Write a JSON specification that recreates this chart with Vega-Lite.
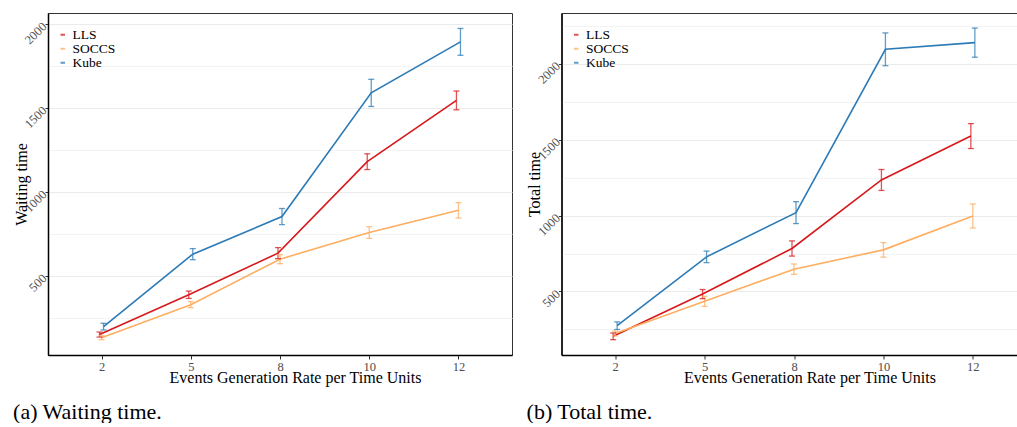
{
  "$schema": "https://vega.github.io/schema/vega-lite/v6.json",
  "background": "white",
  "padding": {"left": 12, "top": 12, "right": 0, "bottom": 0},
  "spacing": 12.5,
  "config": {
    "font": "Liberation Serif",
    "view": {"stroke": "#333333", "strokeWidth": 1},
    "axis": {
      "labelFont": "Liberation Serif",
      "titleFont": "Liberation Serif",
      "labelColor": "#4D4D4D",
      "titleColor": "black",
      "titleFontWeight": "normal",
      "titleFontSize": 16,
      "domainColor": "black",
      "domainWidth": 1.5,
      "tickColor": "#333333",
      "gridColor": "#EBEBEB",
      "gridWidth": 1
    },
    "legend": {
      "title": null,
      "orient": "none",
      "legendX": 8,
      "legendY": 15,
      "padding": 0,
      "symbolType": "stroke",
      "symbolSize": 20,
      "symbolStrokeWidth": 2,
      "labelFont": "Liberation Serif",
      "labelFontSize": 13.5,
      "labelColor": "black",
      "labelOffset": 3,
      "rowPadding": -1.5
    },
    "title": {"font": "Liberation Serif", "fontSize": 22, "fontWeight": "normal", "color": "black"}
  },
  "datasets": {
    "wait": [
      {"rate": "2", "alg": "LLS", "y": 150, "lo": 135, "hi": 165},
      {"rate": "5", "alg": "LLS", "y": 387, "lo": 365, "hi": 409},
      {"rate": "8", "alg": "LLS", "y": 635, "lo": 602, "hi": 668},
      {"rate": "10", "alg": "LLS", "y": 1180, "lo": 1133, "hi": 1227},
      {"rate": "12", "alg": "LLS", "y": 1545, "lo": 1489, "hi": 1601},
      {"rate": "2", "alg": "SOCCS", "y": 131, "lo": 119, "hi": 143},
      {"rate": "5", "alg": "SOCCS", "y": 328, "lo": 310, "hi": 346},
      {"rate": "8", "alg": "SOCCS", "y": 599, "lo": 572, "hi": 626},
      {"rate": "10", "alg": "SOCCS", "y": 758, "lo": 723, "hi": 793},
      {"rate": "12", "alg": "SOCCS", "y": 890, "lo": 844, "hi": 936},
      {"rate": "2", "alg": "Kube", "y": 197, "lo": 177, "hi": 217},
      {"rate": "5", "alg": "Kube", "y": 629, "lo": 596, "hi": 662},
      {"rate": "8", "alg": "Kube", "y": 853, "lo": 805, "hi": 901},
      {"rate": "10", "alg": "Kube", "y": 1590, "lo": 1509, "hi": 1671},
      {"rate": "12", "alg": "Kube", "y": 1894, "lo": 1814, "hi": 1974}
    ],
    "total": [
      {"rate": "2", "alg": "LLS", "y": 205, "lo": 183, "hi": 227},
      {"rate": "5", "alg": "LLS", "y": 483, "lo": 453, "hi": 513},
      {"rate": "8", "alg": "LLS", "y": 783, "lo": 733, "hi": 833},
      {"rate": "10", "alg": "LLS", "y": 1234, "lo": 1165, "hi": 1303},
      {"rate": "12", "alg": "LLS", "y": 1523, "lo": 1441, "hi": 1605},
      {"rate": "2", "alg": "SOCCS", "y": 224, "lo": 208, "hi": 240},
      {"rate": "5", "alg": "SOCCS", "y": 435, "lo": 402, "hi": 468},
      {"rate": "8", "alg": "SOCCS", "y": 647, "lo": 613, "hi": 681},
      {"rate": "10", "alg": "SOCCS", "y": 774, "lo": 726, "hi": 822},
      {"rate": "12", "alg": "SOCCS", "y": 997, "lo": 918, "hi": 1076},
      {"rate": "2", "alg": "Kube", "y": 275, "lo": 250, "hi": 300},
      {"rate": "5", "alg": "Kube", "y": 728, "lo": 690, "hi": 766},
      {"rate": "8", "alg": "Kube", "y": 1019, "lo": 947, "hi": 1091},
      {"rate": "10", "alg": "Kube", "y": 2094, "lo": 1986, "hi": 2202},
      {"rate": "12", "alg": "Kube", "y": 2138, "lo": 2042, "hi": 2234}
    ]
  },
  "hconcat": [
    {
      "width": 464,
      "height": 342,
      "title": {"text": "(a) Waiting time.", "orient": "bottom", "anchor": "start", "frame": "bounds", "offset": 16},
      "data": {"name": "wait"},
      "encoding": {
        "x": {"field": "rate", "type": "ordinal", "sort": ["2", "5", "8", "10", "12"], "scale": {"type": "point", "padding": 0.6},
          "axis": {"title": "Events Generation Rate per Time Units", "labelAngle": 0, "labelFontSize": 12.5, "tickSize": 4, "labelPadding": 1, "titlePadding": -3, "titleX": 247}},
        "xOffset": {"field": "alg", "type": "nominal", "scale": {"type": "point", "domain": ["LLS", "SOCCS", "Kube"], "range": [-3, 3]}},
        "color": {"field": "alg", "type": "nominal", "scale": {"domain": ["LLS", "SOCCS", "Kube"], "range": ["#D7191C", "#FDAE61", "#2C7BB6"]}}
      },
      "layer": [
        {"mark": {"type": "line", "strokeWidth": 1.6},
          "encoding": {"y": {"field": "y", "type": "quantitative", "title": "Waiting time", "scale": {"domain": [28, 2066], "nice": false, "zero": false},
            "axis": {"values": [250, 500, 750, 1000, 1250, 1500, 1750, 2000], "format": "d",
              "labelExpr": "datum.value % 500 === 0 ? datum.label : ''",
              "labelAngle": -45, "labelAlign": "right", "labelBaseline": "middle", "labelFontSize": 12.5, "labelPadding": 1, "tickSize": 3,
              "tickOpacity": {"condition": {"test": "datum.value % 500 === 0", "value": 1}, "value": 0},
              "gridColor": {"condition": {"test": "datum.value % 500 === 0", "value": "#EBEBEB"}, "value": "#F3F3F3"},
              "titlePadding": -7}}}},
        {"mark": {"type": "rule", "strokeWidth": 1.3, "opacity": 0.75},
          "encoding": {"y": {"field": "lo", "type": "quantitative", "title": "Waiting time"}, "y2": {"field": "hi"}}},
        {"mark": {"type": "tick", "thickness": 1.3, "size": 6, "opacity": 0.75},
          "encoding": {"y": {"field": "lo", "type": "quantitative", "title": "Waiting time"}}},
        {"mark": {"type": "tick", "thickness": 1.3, "size": 6, "opacity": 0.75},
          "encoding": {"y": {"field": "hi", "type": "quantitative", "title": "Waiting time"}}}
      ]
    },
    {
      "width": 465,
      "height": 342,
      "title": {"text": "(b) Total time.", "orient": "bottom", "anchor": "start", "frame": "bounds", "offset": 16},
      "data": {"name": "total"},
      "encoding": {
        "x": {"field": "rate", "type": "ordinal", "sort": ["2", "5", "8", "10", "12"], "scale": {"type": "point", "padding": 0.6},
          "axis": {"title": "Events Generation Rate per Time Units", "labelAngle": 0, "labelFontSize": 12.5, "tickSize": 4, "labelPadding": 1, "titlePadding": -3, "titleX": 248}},
        "xOffset": {"field": "alg", "type": "nominal", "scale": {"type": "point", "domain": ["LLS", "SOCCS", "Kube"], "range": [-3, 3]}},
        "color": {"field": "alg", "type": "nominal", "scale": {"domain": ["LLS", "SOCCS", "Kube"], "range": ["#D7191C", "#FDAE61", "#2C7BB6"]}}
      },
      "layer": [
        {"mark": {"type": "line", "strokeWidth": 1.6},
          "encoding": {"y": {"field": "y", "type": "quantitative", "title": "Total time", "scale": {"domain": [82, 2333], "nice": false, "zero": false},
            "axis": {"values": [250, 500, 750, 1000, 1250, 1500, 1750, 2000, 2250], "format": "d",
              "labelExpr": "datum.value % 500 === 0 ? datum.label : ''",
              "labelAngle": -45, "labelAlign": "right", "labelBaseline": "middle", "labelFontSize": 12.5, "labelPadding": 1, "tickSize": 3,
              "tickOpacity": {"condition": {"test": "datum.value % 500 === 0", "value": 1}, "value": 0},
              "gridColor": {"condition": {"test": "datum.value % 500 === 0", "value": "#EBEBEB"}, "value": "#F3F3F3"},
              "titlePadding": -7}}}},
        {"mark": {"type": "rule", "strokeWidth": 1.3, "opacity": 0.75},
          "encoding": {"y": {"field": "lo", "type": "quantitative", "title": "Total time"}, "y2": {"field": "hi"}}},
        {"mark": {"type": "tick", "thickness": 1.3, "size": 6, "opacity": 0.75},
          "encoding": {"y": {"field": "lo", "type": "quantitative", "title": "Total time"}}},
        {"mark": {"type": "tick", "thickness": 1.3, "size": 6, "opacity": 0.75},
          "encoding": {"y": {"field": "hi", "type": "quantitative", "title": "Total time"}}}
      ]
    }
  ],
  "resolve": {"scale": {"color": "independent", "x": "independent", "y": "independent"}, "legend": {"color": "independent"}}
}
